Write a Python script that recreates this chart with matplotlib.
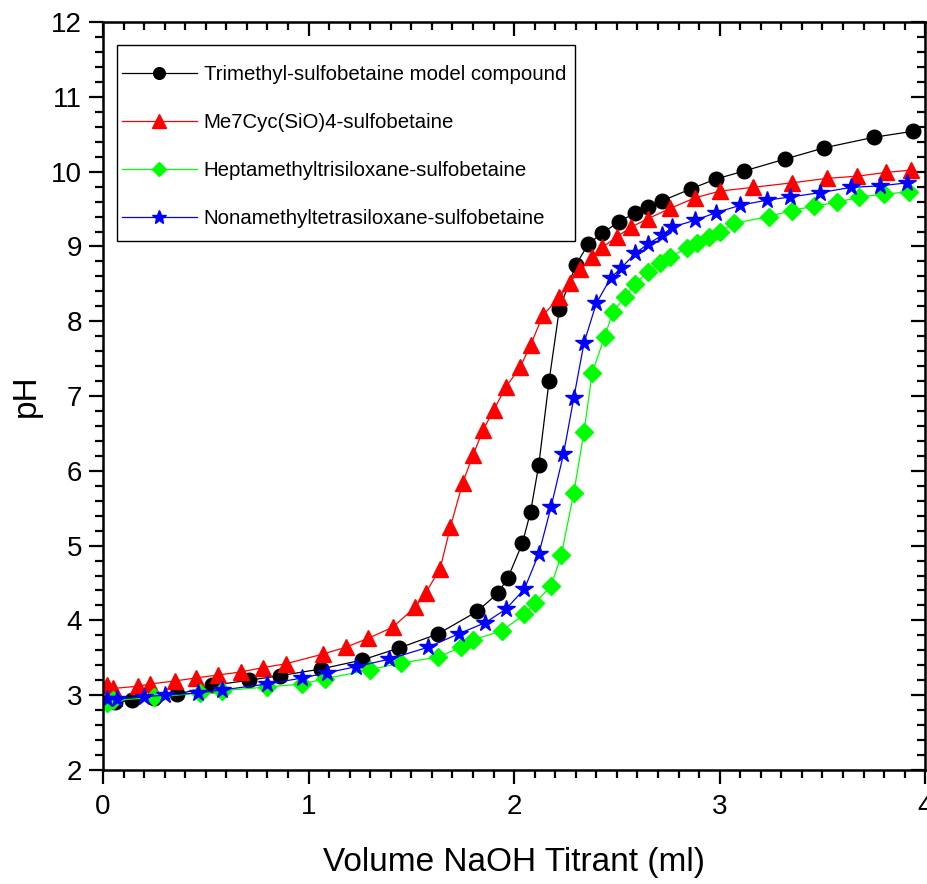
import matplotlib
matplotlib.use('Agg')
import matplotlib.pyplot as plt
import matplotlib.ticker as mticker
from matplotlib.patches import Rectangle

plt.rcParams['font.family'] = ['Liberation Sans', 'DejaVu Sans']

# Titration data (volume in ml, pH)
x_trimethyl = [0.06, 0.14, 0.25, 0.36, 0.53, 0.71, 0.86, 1.06, 1.26, 1.44, 1.63, 1.82, 1.92, 1.97,
               2.04, 2.08, 2.12, 2.17, 2.22, 2.30, 2.36, 2.43, 2.51, 2.59, 2.65, 2.72, 2.86, 2.98,
               3.12, 3.32, 3.51, 3.75, 3.94]
ph_trimethyl = [2.91, 2.93, 2.96, 3.01, 3.13, 3.20, 3.26, 3.35, 3.47, 3.63, 3.82, 4.12, 4.36, 4.57,
                5.03, 5.45, 6.08, 7.20, 8.16, 8.75, 9.03, 9.18, 9.33, 9.45, 9.53, 9.61, 9.77, 9.90,
                10.01, 10.17, 10.32, 10.46, 10.54]

x_cyclic = [0.02, 0.05, 0.17, 0.23, 0.35, 0.45, 0.56, 0.67, 0.78, 0.89, 1.07, 1.18, 1.29, 1.41,
            1.52, 1.57, 1.64, 1.69, 1.75, 1.80, 1.85, 1.90, 1.96, 2.03, 2.08, 2.14, 2.22, 2.27,
            2.32, 2.38, 2.43, 2.50, 2.57, 2.65, 2.76, 2.88, 3.00, 3.16, 3.35, 3.52, 3.67, 3.81, 3.93]
ph_cyclic = [3.13, 3.09, 3.12, 3.15, 3.19, 3.23, 3.27, 3.31, 3.37, 3.42, 3.55, 3.64, 3.76, 3.91,
             4.18, 4.37, 4.69, 5.25, 5.84, 6.21, 6.55, 6.81, 7.12, 7.39, 7.68, 8.08, 8.32, 8.51,
             8.70, 8.86, 8.99, 9.13, 9.26, 9.37, 9.51, 9.65, 9.74, 9.79, 9.85, 9.91, 9.94, 9.99, 10.02]

x_trisiloxane = [0.02, 0.05, 0.25, 0.47, 0.58, 0.80, 0.97, 1.08, 1.30, 1.45, 1.63, 1.74, 1.80, 1.94,
                 2.05, 2.10, 2.18, 2.23, 2.29, 2.34, 2.38, 2.44, 2.48, 2.54, 2.59, 2.65, 2.71, 2.76,
                 2.84, 2.89, 2.95, 3.00, 3.07, 3.24, 3.35, 3.46, 3.57, 3.68, 3.80, 3.92]
ph_trisiloxane = [2.90, 2.93, 2.97, 3.03, 3.06, 3.11, 3.15, 3.22, 3.34, 3.43, 3.51, 3.64, 3.74, 3.86,
                  4.08, 4.23, 4.46, 4.88, 5.70, 6.52, 7.31, 7.79, 8.12, 8.33, 8.50, 8.66, 8.78, 8.86,
                  8.98, 9.05, 9.13, 9.19, 9.31, 9.40, 9.48, 9.54, 9.59, 9.66, 9.70, 9.73]

x_tetrasiloxane = [0.02, 0.07, 0.20, 0.30, 0.46, 0.58, 0.80, 0.97, 1.09, 1.23, 1.39, 1.58, 1.73, 1.86,
                   1.96, 2.05, 2.12, 2.18, 2.24, 2.29, 2.34, 2.40, 2.47, 2.52, 2.59, 2.65, 2.72, 2.77,
                   2.88, 2.98, 3.10, 3.23, 3.34, 3.49, 3.64, 3.78, 3.91]
ph_tetrasiloxane = [2.95, 2.95, 2.98, 3.00, 3.03, 3.07, 3.15, 3.23, 3.30, 3.38, 3.48, 3.64, 3.82, 3.97,
                    4.15, 4.42, 4.89, 5.52, 6.22, 6.97, 7.71, 8.24, 8.58, 8.71, 8.91, 9.03, 9.15, 9.26,
                    9.35, 9.45, 9.55, 9.62, 9.66, 9.72, 9.79, 9.81, 9.85]

labels = ['Trimethyl-sulfobetaine model compound', 'Me7Cyc(SiO)4-sulfobetaine',
          'Heptamethyltrisiloxane-sulfobetaine', 'Nonamethyltetrasiloxane-sulfobetaine']

fig = plt.figure(figsize=(9.28, 8.84), dpi=100)
ax = fig.add_axes([0.111, 0.129, 0.886, 0.846])

ax.plot(x_trimethyl, ph_trimethyl, color='black', lw=0.9, marker='o', ms=10.5, label=labels[0])
ax.plot(x_cyclic, ph_cyclic, color='#ff0000', lw=0.9, marker='^', ms=12, label=labels[1])
ax.plot(x_trisiloxane, ph_trisiloxane, color='#00ff00', lw=0.9, marker='D', ms=9.5, label=labels[2])
ax.plot(x_tetrasiloxane, ph_tetrasiloxane, color='#0000ff', lw=0.9, marker='*', ms=13, label=labels[3])

ax.set_xlim(0, 4)
ax.set_ylim(2, 12)
ax.xaxis.set_major_locator(mticker.MultipleLocator(1))
ax.xaxis.set_minor_locator(mticker.MultipleLocator(0.1))
ax.yaxis.set_major_locator(mticker.MultipleLocator(1))
ax.yaxis.set_minor_locator(mticker.MultipleLocator(0.2))

for sp in ax.spines.values():
    sp.set_linewidth(1.8)

# outward ticks on bottom/left, inward on top/right
ax.tick_params(which='both', direction='out', width=1.6, labelsize=20)
ax.tick_params(which='major', length=10)
ax.tick_params(which='minor', length=5.5)
ax.tick_params(axis='x', pad=7)
ax.tick_params(axis='y', pad=5)
top = ax.secondary_xaxis('top')
top.set_xticks([0, 1, 2, 3, 4])
top.xaxis.set_minor_locator(mticker.MultipleLocator(0.1))
top.tick_params(which='both', direction='in', width=1.6, labeltop=False)
top.tick_params(which='major', length=10)
top.tick_params(which='minor', length=5.5)
right = ax.secondary_yaxis('right')
right.yaxis.set_major_locator(mticker.MultipleLocator(1))
right.yaxis.set_minor_locator(mticker.MultipleLocator(0.2))
right.tick_params(which='both', direction='in', width=1.6, labelright=False)
right.tick_params(which='major', length=10)
right.tick_params(which='minor', length=5.5)

ax.set_xlabel('Volume NaOH Titrant (ml)', fontsize=24, labelpad=20)
ax.set_ylabel('pH', fontsize=24, labelpad=7)

# legend box drawn separately so the padding matches the original
ax.add_patch(Rectangle((0.017, 0.707), 0.557, 0.262, transform=ax.transAxes,
                       facecolor='white', edgecolor='black', lw=1.0, zorder=5))
leg = ax.legend(loc='upper left', bbox_to_anchor=(0.0231, 0.943), borderaxespad=0,
                borderpad=0, fontsize=14.7, frameon=False,
                handlelength=3.65, handletextpad=0.35, labelspacing=1.42, markerscale=0.8)
leg.set_zorder(6)

fig.savefig('out.png', dpi=100)
